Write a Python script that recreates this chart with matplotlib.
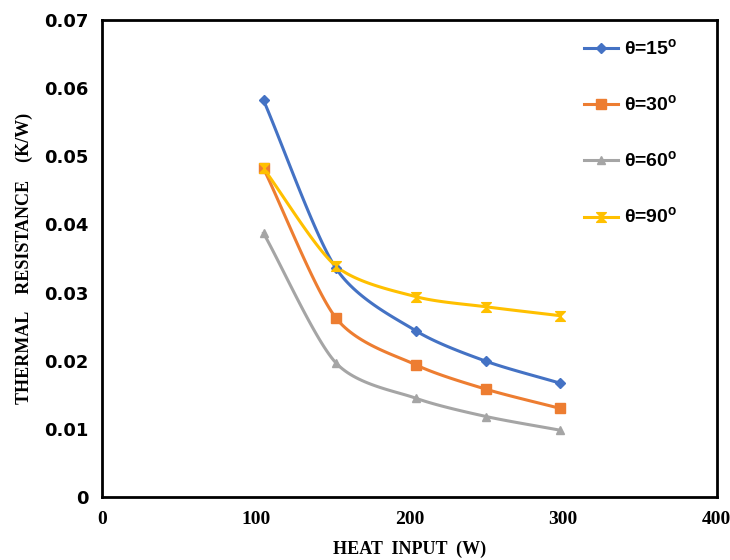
import numpy as np
import matplotlib.pyplot as plt
from matplotlib.path import Path

# datos
heat = [105, 152, 204, 250, 298]
r15 = [0.0582, 0.0336, 0.0244, 0.0199, 0.0167]
r30 = [0.0482, 0.0263, 0.0194, 0.0158, 0.0130]
r60 = [0.0387, 0.0197, 0.0145, 0.0118, 0.0098]
r90 = [0.0482, 0.0339, 0.0294, 0.0279, 0.0266]
labels = ["θ=15$^{\\mathregular{o}}$", "θ=30$^{\\mathregular{o}}$",
          "θ=60$^{\\mathregular{o}}$", "θ=90$^{\\mathregular{o}}$"]
colors = ["#4472C4", "#ED7D31", "#A5A5A5", "#FFC000"]

# marcador tipo reloj de arena (como excel)
hourglass = Path([(-1, 1), (1, 1), (-1, -1), (1, -1), (-1, 1)],
                 [Path.MOVETO, Path.LINETO, Path.LINETO, Path.LINETO, Path.CLOSEPOLY])
markers = ["D", "s", "^", hourglass]
msizes = [5, 7, 6, 7]


def smooth(x, y, n=30):
    # curva suavizada tipo catmull-rom (como las lineas suavizadas de excel)
    x = np.asarray(x, float)
    y = np.asarray(y, float)
    px = np.concatenate([[2 * x[0] - x[1]], x, [2 * x[-1] - x[-2]]])
    py = np.concatenate([[2 * y[0] - y[1]], y, [2 * y[-1] - y[-2]]])
    xs, ys = [], []
    t = np.linspace(0, 1, n)
    for i in range(1, len(px) - 2):
        for arr, out in ((px, xs), (py, ys)):
            p0, p1, p2, p3 = arr[i - 1], arr[i], arr[i + 1], arr[i + 2]
            m1 = (p2 - p0) / 2 * 0.8
            m2 = (p3 - p1) / 2 * 0.8
            h00 = 2 * t**3 - 3 * t**2 + 1
            h10 = t**3 - 2 * t**2 + t
            h01 = -2 * t**3 + 3 * t**2
            h11 = t**3 - t**2
            out.extend(h00 * p1 + h10 * m1 + h01 * p2 + h11 * m2)
    return xs, ys


fig = plt.figure(figsize=(7.3, 5.6), dpi=100)
ax = fig.add_axes([0.140, 0.1125, 0.842, 0.852])

for ys, lab, c, m, ms in zip([r15, r30, r60, r90], labels, colors, markers, msizes):
    sx, sy = smooth(heat, ys)
    ax.plot(sx, sy, color=c, lw=2.2, zorder=2)
    ax.plot(heat, ys, linestyle="none", marker=m, color=c, ms=ms, zorder=3)
    # entrada de leyenda
    ax.plot([], [], color=c, lw=2.2, marker=m, ms=ms, label=lab)

ax.set_xlim(0, 400)
ax.set_ylim(0, 0.07)
ax.set_xticks([0, 100, 200, 300, 400])
ax.set_yticks(np.arange(0, 0.071, 0.01))
ax.set_yticklabels(["0"] + ["%.2f" % v for v in np.arange(0.01, 0.071, 0.01)])
ax.tick_params(length=0, pad=10)
for lbl in ax.get_xticklabels():
    lbl.set_fontfamily("Liberation Serif")
    lbl.set_fontweight("bold")
    lbl.set_fontsize(14)
for lbl in ax.get_yticklabels():
    lbl.set_fontfamily("DejaVu Sans")
    lbl.set_fontweight("bold")
    lbl.set_fontsize(13)
for s in ax.spines.values():
    s.set_linewidth(2)
    s.set_color("black")

ax.set_xlabel("HEAT  INPUT  (W)", fontfamily="Liberation Serif", fontweight="bold", fontsize=13, labelpad=9)
ax.set_ylabel("THERMAL    RESISTANCE    (K/W)", fontfamily="Liberation Serif", fontweight="bold",
              fontsize=13, labelpad=8)

leg = ax.legend(loc="upper left", bbox_to_anchor=(0.755, 0.999), frameon=False, handlelength=1.75,
                labelspacing=1.83, handletextpad=0.3,
                prop={"family": "Liberation Sans", "weight": "bold", "size": 14})

fig.savefig("out.png", dpi=100)
